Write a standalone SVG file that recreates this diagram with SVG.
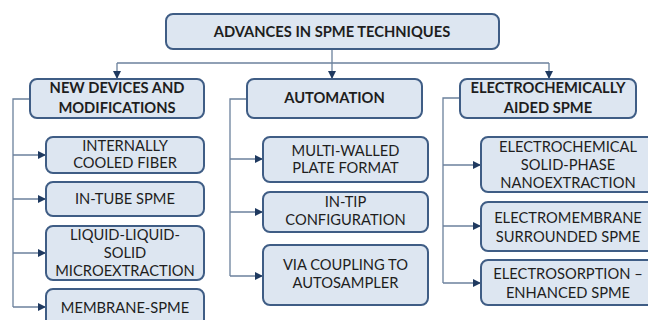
<svg xmlns="http://www.w3.org/2000/svg" width="648" height="320" viewBox="0 0 648 320">
<defs>
<marker id="arr" viewBox="0 0 10 10" refX="10" refY="5" markerWidth="8" markerHeight="8" markerUnits="userSpaceOnUse" orient="auto">
<path d="M0,0 L10,5 L0,10 Z" fill="#1f3a60"/>
</marker>
<style>
.box{fill:#dde6f1;stroke:#3f5d85;stroke-width:2}
.t{font-family:Lato,"Open Sans","DejaVu Sans",sans-serif;font-size:14.7px;fill:#1e1e1e;text-anchor:middle}
.b{font-weight:bold}
.c{fill:none;stroke:#6b819c;stroke-width:1.3}
.a{marker-end:url(#arr)}
</style>
</defs>
<rect width="648" height="320" fill="#ffffff"/>
<g id="connectors">
<path class="c" d="M332,49 V63"/>
<path class="c" d="M117,63 H549"/>
<path class="c a" d="M117,63 V79"/>
<path class="c a" d="M332,63 V79"/>
<path class="c a" d="M549,63 V79"/>
<path class="c" d="M30,99 H13 V307"/>
<path class="c a" d="M13,155 H46"/>
<path class="c a" d="M13,199 H46"/>
<path class="c a" d="M13,253 H46"/>
<path class="c a" d="M13,307 H46"/>
<path class="c" d="M247,99 H230 V276"/>
<path class="c a" d="M230,159 H263"/>
<path class="c a" d="M230,212 H263"/>
<path class="c a" d="M230,276 H263"/>
<path class="c" d="M460,98 H443 V283"/>
<path class="c a" d="M443,165 H481"/>
<path class="c a" d="M443,226 H481"/>
<path class="c a" d="M443,283 H481"/>
</g>
<g id="root"><rect class="box" x="166" y="14" width="333" height="35" rx="7"/><text class="t b" x="332" y="37">ADVANCES IN SPME TECHNIQUES</text></g>
<g id="new-devices"><rect class="box" x="30" y="79" width="174" height="39" rx="7"/><text class="t b" x="117" y="93">NEW DEVICES AND</text><text class="t b" x="117" y="113">MODIFICATIONS</text></g>
<g id="automation"><rect class="box" x="247" y="79" width="175" height="39" rx="7"/><text class="t b" x="334.5" y="103">AUTOMATION</text></g>
<g id="electro"><rect class="box" x="460" y="79" width="176" height="39" rx="7"/><text class="t b" x="548" y="93">ELECTROCHEMICALLY</text><text class="t b" x="548" y="113">AIDED SPME</text></g>
<g id="cooled"><rect class="box" x="46" y="137" width="158" height="36" rx="7"/><text class="t" x="125" y="151">INTERNALLY</text><text class="t" x="125" y="168">COOLED FIBER</text></g>
<g id="intube"><rect class="box" x="46" y="182" width="158" height="34" rx="7"/><text class="t" x="125" y="204">IN-TUBE SPME</text></g>
<g id="lls"><rect class="box" x="46" y="226" width="158" height="54" rx="7"/><text class="t" x="125" y="240">LIQUID-LIQUID-</text><text class="t" x="125" y="258">SOLID</text><text class="t" x="125" y="276">MICROEXTRACTION</text></g>
<g id="membrane"><rect class="box" x="46" y="289" width="158" height="40" rx="7"/><text class="t" x="125" y="313">MEMBRANE-SPME</text></g>
<g id="multi"><rect class="box" x="263" y="137" width="165" height="45" rx="7"/><text class="t" x="345.5" y="156">MULTI-WALLED</text><text class="t" x="345.5" y="173">PLATE FORMAT</text></g>
<g id="intip"><rect class="box" x="263" y="192" width="165" height="40" rx="7"/><text class="t" x="345.5" y="207">IN-TIP</text><text class="t" x="345.5" y="225">CONFIGURATION</text></g>
<g id="autosampler"><rect class="box" x="263" y="245" width="165" height="60" rx="7"/><text class="t" x="345.5" y="270">VIA COUPLING TO</text><text class="t" x="345.5" y="288">AUTOSAMPLER</text></g>
<g id="nanoext"><rect class="box" x="481" y="137" width="175" height="55" rx="7"/><text class="t" x="568" y="152">ELECTROCHEMICAL</text><text class="t" x="568" y="170">SOLID-PHASE</text><text class="t" x="568" y="188">NANOEXTRACTION</text></g>
<g id="electromembrane"><rect class="box" x="481" y="202" width="175" height="49" rx="7"/><text class="t" x="568" y="222.5">ELECTROMEMBRANE</text><text class="t" x="568" y="241.5">SURROUNDED SPME</text></g>
<g id="electrosorption"><rect class="box" x="481" y="260" width="175" height="45" rx="7"/><text class="t" x="568" y="279">ELECTROSORPTION –</text><text class="t" x="568" y="298">ENHANCED SPME</text></g>
</svg>
